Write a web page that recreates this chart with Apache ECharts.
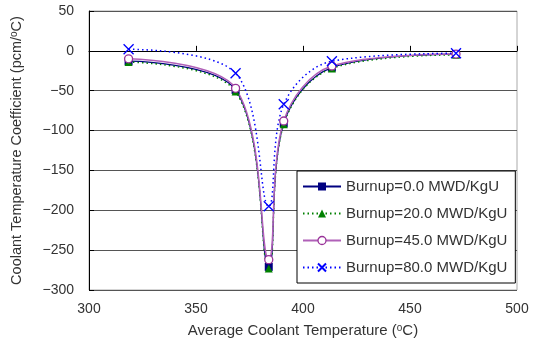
<!DOCTYPE html>
<html>
<head>
<meta charset="utf-8">
<script src="https://cdn.jsdelivr.net/npm/echarts@6/dist/echarts.min.js"></script>
<style>
  html, body { margin: 0; padding: 0; background: #fff; }
  #chart { width: 533px; height: 347px; }
</style>
</head>
<body>
<div id="chart"></div>
<script>
// 温度点 (°C)
var temps = [318.5, 368.5, 384, 391, 413.5, 471.5];
// 各燃耗下的冷却剂温度系数 (pcm/°C)
var burnup0 = [-13, -49, -271, -91, -21, -4];
var burnup20 = [-14, -51, -273, -92, -22, -5];
var burnup45 = [-10, -47, -262, -88, -19, -4];
var burnup80 = [2, -28, -195, -67, -13, -3];
var names = ['Burnup=0.0 MWD/KgU', 'Burnup=20.0 MWD/KgU', 'Burnup=45.0 MWD/KgU', 'Burnup=80.0 MWD/KgU'];

var myChart = echarts.init(document.getElementById('chart'));

/**
 * [把温度和数值拼成点]
 */
function pairs(ys) {
    return temps.map(function (t, i) { return [t, ys[i]]; });
}

var fontName = 'Liberation Sans, Arial, sans-serif';
var supRich = {
    sup: { fontSize: 10, verticalAlign: 'top', padding: [0, 0, 6, 0], color: '#333', fontFamily: fontName }
};

var option = {
    animation: false,
    grid: { left: 89, right: 16, top: 11, bottom: 57, show: true, borderColor: '#aaa', borderWidth: 1 },
    legend: {
        orient: 'vertical',
        left: 297,
        top: 171,
        padding: [8, 8, 8, 5],
        itemGap: 12,
        itemWidth: 38,
        itemHeight: 10,
        borderColor: '#000',
        borderWidth: 1,
        backgroundColor: '#fff',
        textStyle: { fontSize: 15, color: '#333', fontFamily: fontName },
        data: [
            { name: names[0] },
            { name: names[1] },
            { name: names[2], itemStyle: { color: '#fff', borderColor: '#993399', borderWidth: 1.3 } },
            { name: names[3] }
        ]
    },
    xAxis: {
        type: 'value',
        min: 300, max: 500, interval: 50,
        name: 'Average Coolant Temperature ({sup|o}C)',
        nameLocation: 'middle',
        nameGap: 33,
        nameTextStyle: { fontSize: 15, color: '#333', fontFamily: fontName, rich: supRich },
        axisLine: { lineStyle: { color: '#000' } },
        axisTick: { inside: true, length: 5, lineStyle: { color: '#000' } },
        axisLabel: { fontSize: 14, color: '#333', margin: 12, fontFamily: fontName },
        splitLine: { show: false }
    },
    yAxis: {
        type: 'value',
        min: -300, max: 50, interval: 50,
        name: 'Coolant Temperature Coefficient (pcm/{sup|o}C)',
        nameLocation: 'middle',
        nameGap: 64,
        nameTextStyle: { fontSize: 14.5, color: '#333', fontFamily: fontName, rich: supRich },
        axisLine: { show: true, lineStyle: { color: '#000' } },
        axisTick: { show: true, inside: true, length: 5, lineStyle: { color: '#000' } },
        axisLabel: { fontSize: 14, color: '#333', margin: 15, fontFamily: fontName,
            formatter: function (v) { return v < 0 ? '\u2212' + Math.abs(v) : String(v); } },
        splitLine: { show: true, lineStyle: { color: '#555', width: 1 } }
    },
    series: [
        {
            name: names[0], type: 'line', smooth: 0.35,
            data: pairs(burnup0),
            symbol: 'rect', symbolSize: 8,
            itemStyle: { color: '#000080' },
            lineStyle: { color: '#000080', width: 1.2, type: 'solid' }
        },
        {
            name: names[1], type: 'line', smooth: 0.35,
            data: pairs(burnup20),
            symbol: 'triangle', symbolSize: 8,
            itemStyle: { color: '#008000' },
            lineStyle: { color: '#008000', width: 1.5, type: [1.5, 3] }
        },
        {
            name: names[2], type: 'line', smooth: 0.35,
            data: pairs(burnup45),
            symbol: 'circle', symbolSize: 8,
            itemStyle: { color: '#fff', borderColor: '#993399', borderWidth: 1.3 },
            lineStyle: { color: '#b060b8', width: 1.5, type: 'solid' }
        },
        {
            name: names[3], type: 'line', smooth: 0.35,
            data: pairs(burnup80),
            symbol: 'path://M0,0L10,10M10,0L0,10', symbolSize: 10,
            itemStyle: { color: 'transparent', borderColor: '#0000ff', borderWidth: 1.3 },
            lineStyle: { color: '#0000ff', width: 1.5, type: [1.5, 3] }
        }
    ]
};

myChart.setOption(option);
</script>
</body>
</html>
